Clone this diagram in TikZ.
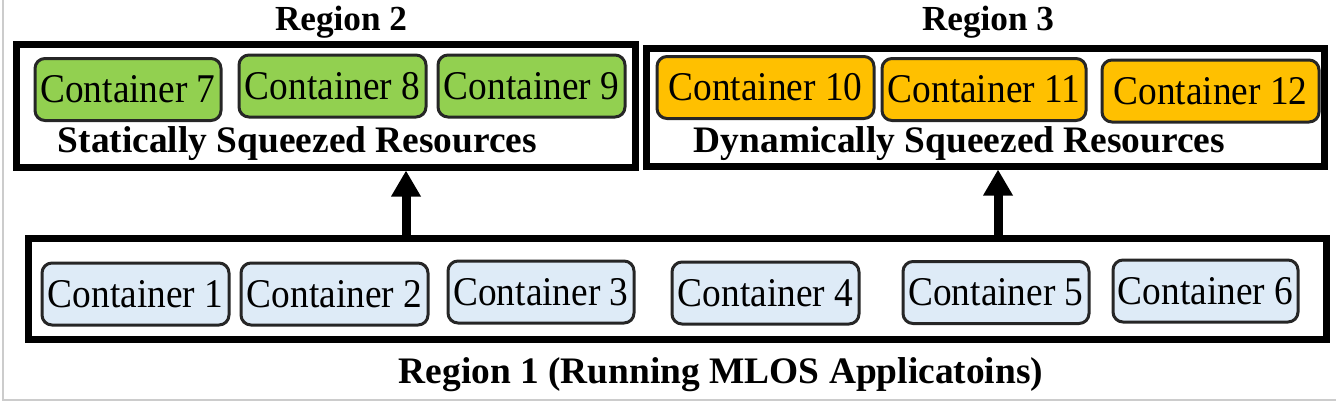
\documentclass[tikz,border=0pt]{standalone}
\usepackage{fontspec}
\setmainfont{Liberation Serif}
\newfontfamily\condfont{Liberation Serif}[FakeStretch=0.915]
\usetikzlibrary{arrows.meta}

\definecolor{box_green}{HTML}{92D050}
\definecolor{box_orange}{HTML}{FFC000}
\definecolor{box_blue}{HTML}{DEEBF7}
\definecolor{box_edge}{HTML}{262626}

\tikzset{
  container/.style={draw=box_edge, line width=1.5pt, rounded corners=5pt, minimum height=31pt, inner sep=0pt,
    font=\condfont\fontsize{20.4pt}{21pt}\selectfont},
  region/.style={draw=black, line width=3.5pt, inner sep=0pt},
  label/.style={anchor=base, font=\fontsize{18.7pt}{20pt}\selectfont\bfseries},
  uparrow/.style={line width=4.5pt, -{Triangle[width=14pt, length=13pt]}}
}

\begin{document}
\begin{tikzpicture}[x=0.5pt, y=-0.5pt]
   \useasboundingbox (0, 0) rectangle (1336, 402);
   % page edge
   \draw [line width=1pt, black!20] (3, 0) -- (3, 400) -- (1336, 400);
   % region boxes
   \node [region, minimum width=309.5pt, minimum height=61.5pt] (reg2) at (325.5, 105.5) {};
   \node [region, minimum width=339pt, minimum height=59pt] (reg3) at (985, 107) {};
   \node [region, minimum width=649pt, minimum height=50.5pt] (reg1) at (677, 288.5) {};
   % region 2 containers
   \node [container, fill=box_green, minimum width=93pt] (c7) at (128, 89.5) {Container 7};
   \node [container, fill=box_green, minimum width=93.5pt] (c8) at (332.5, 86) {Container 8};
   \node [container, fill=box_green, minimum width=93.5pt] (c9) at (531.5, 86) {Container 9};
   % region 3 containers
   \node [container, fill=box_orange, minimum width=108.5pt] (c10) at (765.5, 87.5) {Container 10};
   \node [container, fill=box_orange, minimum width=102pt] (c11) at (984, 89.5) {Container 11};
   \node [container, fill=box_orange, minimum width=108.5pt] (c12) at (1210.5, 91) {Container 12};
   % region 1 containers
   \node [container, fill=box_blue, minimum width=93.5pt] (c1) at (135.5, 294) {Container 1};
   \node [container, fill=box_blue, minimum width=93.5pt] (c2) at (334.5, 294) {Container 2};
   \node [container, fill=box_blue, minimum width=93pt] (c3) at (541, 292) {Container 3};
   \node [container, fill=box_blue, minimum width=93.5pt] (c4) at (765.5, 293) {Container 4};
   \node [container, fill=box_blue, minimum width=93pt] (c5) at (996, 292.5) {Container 5};
   \node [container, fill=box_blue, minimum width=92.5pt] (c6) at (1205.5, 291) {Container 6};
   % labels
   \node [label, font=\fontsize{17.6pt}{19pt}\selectfont\bfseries] (lab2) at (341, 30) {Region 2};
   \node [label, font=\fontsize{17.6pt}{19pt}\selectfont\bfseries] (lab3) at (988, 30) {Region 3};
   \node [label] (stat) at (297.5, 152) {Statically Squeezed Resources};
   \node [label] (dyn) at (959.5, 152) {Dynamically Squeezed Resources};
   \node [label] (lab1) at (721, 383) {Region 1 (Running MLOS Applicatoins)};
   % arrows from region 1 up
   \coordinate (a2) at (406, 0);
   \coordinate (a3) at (998, 0);
   \draw [uparrow] (reg1.north -| a2) -- (reg2.south -| a2);
   \draw [uparrow] (reg1.north -| a3) -- (reg3.south -| a3);
\end{tikzpicture}
\end{document}
